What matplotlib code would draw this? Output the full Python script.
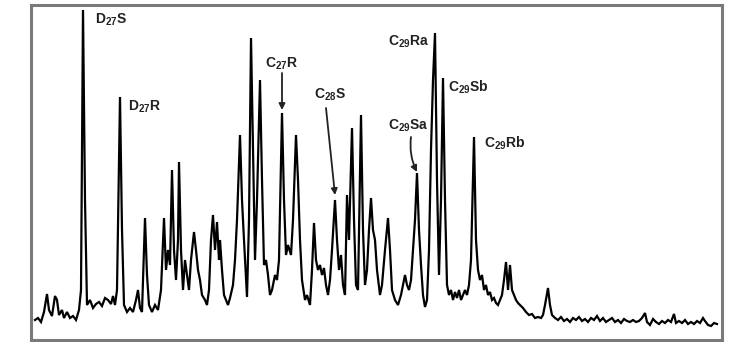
import matplotlib
matplotlib.use("Agg")
import matplotlib.pyplot as plt

plt.rcParams['font.family'] = ['Liberation Sans', 'DejaVu Sans']
plt.rcParams['mathtext.default'] = 'regular'

# Retention position (scan units) and detector response (relative units)
retention = [35, 38, 41, 44, 47, 49, 52, 55, 57, 59, 62, 64, 67, 70, 73, 76, 79, 81, 83, 85, 87, 90, 93, 96,
             99, 102, 105, 108, 111, 113, 115, 117, 120, 122, 124, 127, 130, 133, 136, 138, 140, 142, 145,
             147, 149, 152, 155, 158, 161, 164, 166, 168, 170, 172, 174, 176, 178, 179, 181, 183, 185, 187,
             189, 191, 194, 196, 198, 200, 202, 205, 207, 209, 211, 213, 215, 217, 219, 220, 222, 224, 226,
             228, 230, 233, 235, 237, 240, 242, 244, 247, 249, 251, 253, 255, 257, 260, 262, 264, 266, 268,
             270, 272, 275, 277, 279, 282, 284, 286, 288, 291, 293, 296, 298, 300, 302, 305, 307, 310, 312,
             314, 316, 318, 320, 322, 324, 326, 328, 330, 332, 335, 337, 339, 341, 343, 345, 347, 349, 352,
             354, 356, 358, 361, 363, 365, 367, 369, 371, 373, 375, 377, 380, 382, 385, 388, 390, 392, 395,
             398, 401, 403, 405, 407, 409, 411, 413, 415, 417, 419, 421, 423, 425, 427, 429, 431, 433, 435,
             437, 439, 441, 443, 445, 447, 449, 451, 453, 455, 457, 459, 461, 463, 465, 467, 469, 471, 474,
             476, 478, 480, 482, 484, 486, 488, 490, 492, 494, 496, 498, 500, 502, 504, 506, 508, 510, 512,
             514, 516, 518, 520, 523, 526, 529, 532, 535, 538, 541, 543, 545, 548, 550, 552, 555, 558, 561,
             564, 567, 570, 573, 576, 579, 582, 585, 588, 591, 594, 597, 600, 603, 606, 609, 612, 615, 618,
             621, 624, 627, 630, 633, 636, 639, 642, 645, 647, 650, 653, 656, 659, 662, 665, 668, 671, 674,
             676, 679, 682, 685, 688, 691, 694, 697, 700, 703, 705, 708, 711, 714, 717]
depth = [320, 318, 322, 312, 294, 310, 316, 296, 300, 315, 310, 318, 312, 318, 316, 320, 310, 290, 10, 200,
         305, 300, 308, 304, 302, 306, 298, 300, 304, 296, 305, 290, 97, 230, 305, 312, 308, 312, 300, 290,
         308, 312, 218, 275, 305, 312, 305, 310, 290, 218, 270, 250, 265, 170, 250, 280, 240, 162, 250, 290,
         260, 275, 290, 260, 232, 250, 270, 280, 295, 300, 305, 290, 240, 215, 250, 222, 260, 240, 270, 295,
         300, 305, 298, 285, 260, 220, 135, 200, 240, 297, 220, 38, 150, 260, 200, 80, 180, 265, 260, 275,
         295, 290, 275, 280, 260, 113, 200, 255, 245, 255, 220, 135, 180, 240, 280, 300, 295, 305, 270, 223,
         260, 270, 265, 275, 268, 285, 295, 280, 250, 200, 240, 270, 255, 285, 295, 195, 240, 128, 220, 285,
         290, 115, 230, 285, 270, 230, 198, 230, 240, 270, 295, 285, 250, 218, 250, 290, 300, 305, 295, 285,
         275, 285, 290, 280, 250, 220, 173, 230, 265, 295, 307, 300, 250, 150, 80, 33, 180, 275, 200, 78, 200,
         285, 295, 290, 300, 292, 298, 290, 300, 295, 290, 295, 285, 260, 137, 240, 270, 280, 275, 290, 285,
         295, 292, 300, 298, 303, 305, 300, 295, 280, 262, 290, 265, 290, 295, 300, 303, 305, 308, 312, 315,
         314, 318, 317, 318, 315, 305, 288, 305, 315, 318, 320, 317, 321, 319, 322, 318, 320, 317, 321, 319,
         322, 318, 320, 316, 321, 318, 322, 320, 318, 322, 320, 323, 319, 321, 322, 320, 322, 321, 318, 313,
         322, 325, 319, 322, 324, 321, 323, 320, 322, 314, 323, 321, 323, 320, 324, 322, 324, 321, 323, 318,
         321, 325, 326, 323, 324]
intensity = [340 - d for d in depth]

peak_labels = [r'D$_{27}$S', r'D$_{27}$R', r'C$_{27}$R', r'C$_{28}$S',
               r'C$_{29}$Ra', r'C$_{29}$Sb', r'C$_{29}$Sa', r'C$_{29}$Rb']
label_x = [95, 128, 265, 314, 388, 448, 388, 484]
label_y = [320, 233, 276, 245, 298, 253, 214, 197]
# arrows: (label index, tail x, tail y, head x, head y, curvature)
arrow_label = [2, 3, 6]
arrow_tail_x = [282, 326, 411]
arrow_tail_y = [267, 232, 203]
arrow_head_x = [282, 335, 417]
arrow_head_y = [230, 145, 168]
arrow_rad = [0.0, 0.0, 0.15]

fig = plt.figure(figsize=(7.36, 3.42), dpi=100)
ax = fig.add_axes([31 / 736, 2 / 342, 691 / 736, 335 / 342])
ax.plot(retention, intensity, color='black', lw=1.6, solid_joinstyle='miter')
ax.set_xlim(31, 722)
ax.set_ylim(0, 335)
ax.set_xticks([])
ax.set_yticks([])
for s in ax.spines.values():
    s.set_color('#7a7a7a')
    s.set_linewidth(2.2)

for i, (lab, x, y) in enumerate(zip(peak_labels, label_x, label_y)):
    ax.text(x, y, lab, fontsize=10, fontweight='bold', ha='left', va='center', color='#222222')

for k, tx, ty, hx, hy, r in zip(arrow_label, arrow_tail_x, arrow_tail_y, arrow_head_x, arrow_head_y, arrow_rad):
    ax.annotate('', xy=(hx, hy), xytext=(tx, ty),
                arrowprops=dict(arrowstyle='-|>', color='#222222', lw=1.3, mutation_scale=9,
                                connectionstyle=f'arc3,rad={r}', shrinkA=0, shrinkB=0))

fig.savefig('out.png', dpi=100)
